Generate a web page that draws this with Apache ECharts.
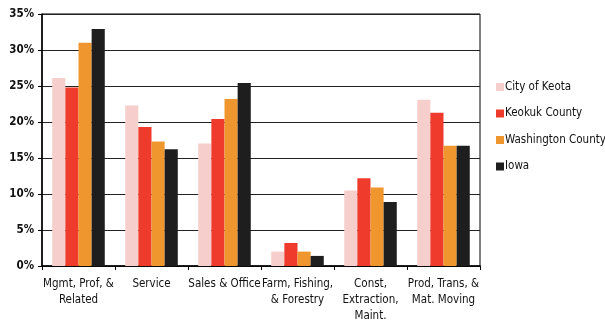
<!DOCTYPE html>
<html><head><meta charset="utf-8">
<script src="https://cdn.jsdelivr.net/npm/echarts@6/dist/echarts.min.js"></script>
<style>html,body{margin:0;padding:0;background:#fff}#c{width:605px;height:324px}</style>
</head><body><div id="c"></div>
<script>
const categories = ["Mgmt, Prof, &\nRelated", "Service", "Sales & Office", "Farm, Fishing,\n& Forestry", "Const,\nExtraction,\nMaint.", "Prod, Trans, &\nMat. Moving"];
const seriesNames = ["City of Keota", "Keokuk County", "Washington County", "Iowa"];
const cityKeota = [26.1, 22.3, 17.0, 2.0, 10.5, 23.1];
const keokuk = [24.8, 19.3, 20.4, 3.2, 12.2, 21.3];
const washington = [31.0, 17.3, 23.2, 2.0, 10.9, 16.7];
const iowa = [32.9, 16.2, 25.4, 1.4, 8.9, 16.7];
const yTicks = [0, 5, 10, 15, 20, 25, 30, 35];
const colors = ["#f6cfcc", "#ee3b2c", "#f0962e", "#1e1e1e"];
const font = "'DejaVu Sans Condensed', 'Liberation Sans', Arial, sans-serif";
const data = [cityKeota, keokuk, washington, iowa];
const chart = echarts.init(document.getElementById('c'));
chart.setOption({
  animation: false,
  color: colors,
  grid: {left: 42, right: 125, top: 14, bottom: 57, show: true, borderColor: '#000', borderWidth: 1},
  legend: {
    orient: 'vertical', left: 491, top: 76, itemWidth: 8, itemHeight: 8, itemGap: 14.5,
    icon: 'rect',
    textStyle: {fontFamily: font, fontSize: 11.5, color: '#111', padding: [0,0,0,-4]},
    data: seriesNames
  },
  xAxis: {
    type: 'category', data: categories,
    axisLine: {lineStyle: {color: '#000', width: 1.5}},
    axisTick: {show: true, length: 4, lineStyle: {color: '#000'}},
    axisLabel: {fontFamily: font, fontSize: 11.5, color: '#111', interval: 0, lineHeight: 16, margin: 10}
  },
  yAxis: {
    type: 'value', min: 0, max: 35, interval: 5,
    axisLine: {show: true, lineStyle: {color: '#000', width: 1.5}},
    axisTick: {show: true, length: 4, lineStyle: {color: '#000'}},
    splitLine: {lineStyle: {color: '#222', width: 1}},
    axisLabel: {fontFamily: font, fontSize: 11.5, fontWeight: 'bold', color: '#111', margin: 8,
      formatter: v => yTicks.includes(v) ? v + '%' : ''}
  },
  series: seriesNames.map((n, i) => ({
    name: n, type: 'bar', data: data[i], barGap: '0%', barCategoryGap: '28%',
    itemStyle: {color: colors[i]}
  }))
});
</script></body></html>
